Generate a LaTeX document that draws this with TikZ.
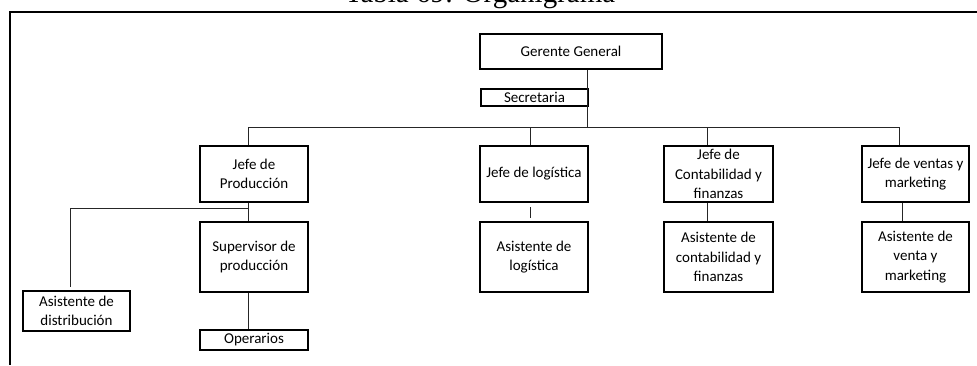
\documentclass[tikz,border=0pt]{standalone}
\usepackage{fontspec}
\setmainfont{Carlito}
\newfontfamily\titlefont{Liberation Serif}
\begin{document}
\begin{tikzpicture}[x=1pt,y=-1pt,
  orgbox/.style={draw, line width=1.1pt, inner sep=0pt, align=center,
    font=\fontsize{15}{19.5}\selectfont},
  link/.style={line width=0.9pt, draw=black!85},
  frame/.style={line width=1.8pt}]
\useasboundingbox (0,0) rectangle (977,365);
% title (cut by the page edge, as in the reference)
\node[anchor=base, font=\titlefont\fontsize{29}{31}\selectfont, inner sep=0pt] (title) at (480,2.5) {Tabla 69: Organigrama};
% frame
\coordinate (fTL) at (10,12);
\coordinate (fTR) at (977,12);
\coordinate (fBL) at (10,365);
\draw[frame] (fTR) -- (fTL) -- (fBL);
% nodes
\node[orgbox, minimum width=182, minimum height=35] (gg) at (571,51.5) {Gerente General};
\node[orgbox, minimum width=107, minimum height=17] (sec) at (534.5,97.5) {Secretaria};
\node[orgbox, minimum width=108, minimum height=56] (jp) at (254,174) {Jefe de\\Producción};
\node[orgbox, minimum width=108, minimum height=70] (sp) at (254,257) {Supervisor de\\producción};
\node[orgbox, minimum width=107, minimum height=40] (ad) at (76.5,311) {Asistente de\\distribución};
\node[orgbox, minimum width=108, minimum height=20] (op) at (254,340) {Operarios};
\node[orgbox, minimum width=108, minimum height=56] (jl) at (534,174) {Jefe de logística};
\node[orgbox, minimum width=108, minimum height=70] (al) at (534,257) {Asistente de\\logística};
\node[orgbox, minimum width=109, minimum height=56] (jc) at (718.5,174) {Jefe de\\Contabilidad y\\finanzas};
\node[orgbox, minimum width=109, minimum height=70] (ac) at (718.5,257) {Asistente de\\contabilidad y\\finanzas};
\node[orgbox, minimum width=107, minimum height=56] (jv) at (915.5,174) {Jefe de ventas y\\marketing};
\node[orgbox, minimum width=107, minimum height=70] (av) at (915.5,257) {Asistente de\\venta y\\marketing};
% connector coordinates
\coordinate (bL) at (248,127);
\coordinate (bM) at (587,127);
\coordinate (bR) at (899,127);
\coordinate (xl) at (530,127);
\coordinate (xc) at (707,127);
\coordinate (xv) at (902,127);
\coordinate (brA) at (248,208);
\coordinate (brB) at (70,208);
\coordinate (brC) at (70,287);
\coordinate (lgA) at (530,207);
\coordinate (lgB) at (530,218);
% connectors
\draw[link] (gg.south -| bM) -- (bM);
\draw[link] (jp.north -| bL) -- (bL) -- (bR) -- (jv.north -| bR);
\draw[link] (xl) -- (jl.north -| xl);
\draw[link] (xc) -- (jc.north -| xc);
\draw[link] (jp.south -| bL) -- (sp.north -| bL);
\draw[link] (brA) -- (brB) -- (brC);
\draw[link] (sp.south -| bL) -- (op.north -| bL);
\draw[link] (lgA) -- (lgB);
\draw[link] (jc.south -| xc) -- (ac.north -| xc);
\draw[link] (jv.south -| xv) -- (av.north -| xv);
\end{tikzpicture}
\end{document}
